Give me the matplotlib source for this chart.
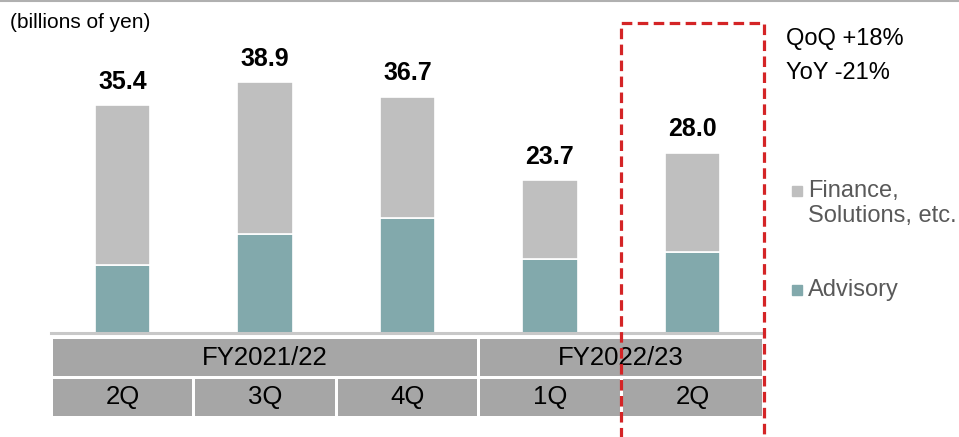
import numpy as np
import matplotlib
matplotlib.use('Agg')
import matplotlib.pyplot as plt
from matplotlib.patches import Rectangle
from matplotlib.lines import Line2D

plt.rcParams['font.family'] = ['Liberation Sans', 'DejaVu Sans']

# Data (billions of yen)
quarters = ['2Q', '3Q', '4Q', '1Q', '2Q']
years = ['FY2021/22', 'FY2022/23']
year_span = [3, 2]
totals = [35.4, 38.9, 36.7, 23.7, 28.0]
advisory = [10.6, 15.4, 17.9, 11.5, 12.6]
finance = [t - a for t, a in zip(totals, advisory)]

c_adv = '#82A9AC'
c_fin = '#BFBFBF'
c_cell = '#A6A6A6'

W, H = 959, 437
fig = plt.figure(figsize=(W / 100, H / 100), dpi=100)

def fx(px):
	return px / W

def fy(py):
	return 1 - py / H

# Main bar axes: baseline at y=333px, x spans 51..764px
ax = fig.add_axes([fx(51.25), fy(333), fx(712.5), 333 / H])
x = np.arange(len(totals))
bw = 0.386
ax.bar(x, advisory, bw, color=c_adv, edgecolor='white', linewidth=1.2)
ax.bar(x, finance, bw, bottom=advisory, color=c_fin, edgecolor='white', linewidth=1.2)
for xi, t in zip(x, totals):
	ax.text(xi, t + 3.6, f'{t:.1f}', ha='center', va='center', fontsize=18, fontweight='bold')
ax.set_xlim(-0.5, 4.5)
ax.set_ylim(0, 333 / 6.44)
ax.axhline(0, color='#C8C8C8', lw=2.2, clip_on=False)
ax.axis('off')

# Category table below
tax = fig.add_axes([fx(51.25), fy(416.5), fx(712.5), 78.5 / H])
tax.set_xlim(-0.5, 4.5)
tax.set_ylim(0, 2)
tax.axis('off')
g = 0.011
start = -0.5
for yr, span in zip(years, year_span):
	tax.add_patch(Rectangle((start + g, 1.04), span - 2 * g, 0.94, color=c_cell, lw=0))
	tax.text(start + span / 2, 1.5, yr, ha='center', va='center', fontsize=18.5)
	start += span
for i, q in enumerate(quarters):
	tax.add_patch(Rectangle((i - 0.5 + g, 0.02), 1 - 2 * g, 0.94, color=c_cell, lw=0))
	tax.text(i, 0.49, q, ha='center', va='center', fontsize=18.5)

# Top rule
fig.add_artist(Line2D([0, 1], [fy(1), fy(1)], color='#B0B0B0', lw=1.5))

# Highlight box (red dashed)
box_x = [fx(621), fx(621), fx(764), fx(764)]
box_y = [fy(445), fy(22.5), fy(22.5), fy(445)]
fig.add_artist(Line2D(box_x, box_y, color='#D42426', lw=2.3, linestyle=(0, (3.3, 1.7))))

fig.text(fx(10), fy(22), '(billions of yen)', fontsize=15, va='center', ha='left')
fig.text(fx(786), fy(39), 'QoQ +18%', fontsize=17, va='center', ha='left')
fig.text(fx(786), fy(73), 'YoY -21%', fontsize=17, va='center', ha='left')

# Legend
fig.patches.append(Rectangle((fx(792), fy(195.5)), fx(10), 10 / H, color=c_fin, transform=fig.transFigure))
fig.text(fx(808), fy(191), 'Finance,', fontsize=17, color='#595959', va='center', ha='left')
fig.text(fx(808), fy(216), 'Solutions, etc.', fontsize=17, color='#595959', va='center', ha='left')
fig.patches.append(Rectangle((fx(792), fy(295)), fx(10), 10 / H, color=c_adv, transform=fig.transFigure))
fig.text(fx(808), fy(290), 'Advisory', fontsize=17, color='#595959', va='center', ha='left')

fig.savefig('out.png', dpi=100)
